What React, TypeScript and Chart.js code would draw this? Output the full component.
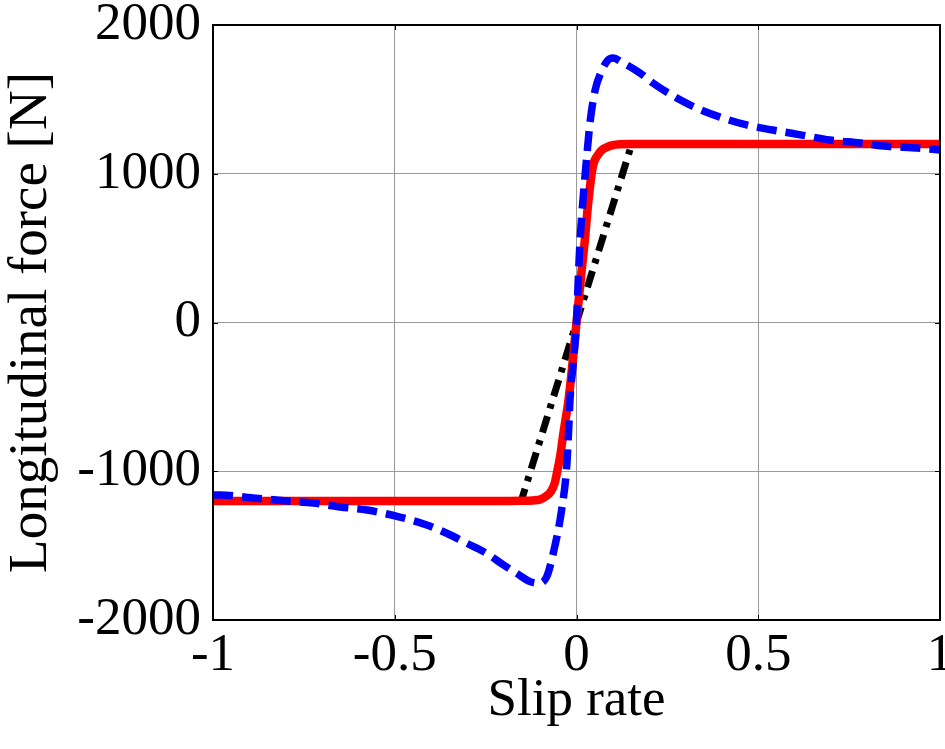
import React, { useEffect, useRef } from "react";
import { Chart, registerables } from "chart.js";

Chart.register(...registerables);

// Slip rate (x) and longitudinal force [N] (y) for each series
const blueSlip = [
  -1, -0.98, -0.89, -0.796, -0.724, -0.65, -0.576, -0.486, -0.412, -0.357, -0.302, -0.247,
  -0.201, -0.165, -0.128, -0.105, -0.082, -0.064, -0.041, -0.027, -0.022, -0.018, -0.008, 0,
  0.005, 0.01, 0.018, 0.028, 0.037, 0.051, 0.069, 0.085, 0.1, 0.128, 0.175, 0.21, 0.276,
  0.33, 0.395, 0.468, 0.54, 0.62, 0.697, 0.78, 0.854, 0.937, 1,
];
const blueForce = [
  -1160, -1160, -1180, -1200, -1214, -1240, -1261, -1308, -1361, -1417, -1484, -1552,
  -1630, -1686, -1742, -1753, -1709, -1552, -1261, -969, -745, -521, -250, 0,
  300, 560, 830, 1110, 1340, 1560, 1690, 1760, 1778, 1745, 1677, 1610, 1509,
  1442, 1381, 1328, 1294, 1260, 1227, 1207, 1185, 1173, 1160,
];

const redSlip = [
  -1, -0.5, -0.2, -0.15, -0.12, -0.1, -0.082, -0.07, -0.06, -0.054, -0.045, -0.037, -0.03,
  -0.023, -0.015, -0.008, 0, 0.008, 0.015, 0.023, 0.032, 0.045, 0.06, 0.07, 0.085, 0.1, 0.12,
  0.15, 0.2, 0.5, 1,
];
const redForce = [
  -1200, -1200, -1200, -1199, -1196, -1190, -1165, -1135, -1080, -1012, -900, -760, -650,
  -540, -370, -200, 0, 200, 370, 555, 800, 1050, 1130, 1160, 1180, 1192, 1198,
  1200, 1200, 1200, 1200,
];

const blackSlip = [-1, -0.152, 0.152, 1];
const blackForce = [-1200, -1200, 1200, 1200];

const xTicks = [-1, -0.5, 0, 0.5, 1];
const yTicks = [-2000, -1000, 0, 1000, 2000];

const xTitle = "Slip rate";
const yTitle = "Longitudinal force [N]";

const FONT = "'Liberation Serif', 'Times New Roman', serif";

const toPoints = (xs: number[], ys: number[]) => xs.map((x, i) => ({ x, y: ys[i] }));

const framePlugin = {
  id: "frame",
  afterDraw(chart: any) {
    const { ctx, chartArea } = chart;
    const { left, right, top, bottom } = chartArea;
    const xs = chart.scales.x;
    const ys = chart.scales.y;
    ctx.save();
    ctx.strokeStyle = "#000";
    ctx.lineWidth = 1;
    const tl = 5;
    ctx.beginPath();
    xTicks.forEach((v) => {
      const px = Math.round(xs.getPixelForValue(v)) + 0.5;
      ctx.moveTo(px, bottom);
      ctx.lineTo(px, bottom - tl);
      ctx.moveTo(px, top);
      ctx.lineTo(px, top + tl);
    });
    yTicks.forEach((v) => {
      const py = Math.round(ys.getPixelForValue(v)) + 0.5;
      ctx.moveTo(left, py);
      ctx.lineTo(left + tl, py);
      ctx.moveTo(right, py);
      ctx.lineTo(right - tl, py);
    });
    ctx.stroke();
    ctx.lineWidth = 2;
    ctx.strokeRect(left, top, right - left, bottom - top);
    ctx.restore();
  },
};

export default function App() {
  const ref = useRef<HTMLCanvasElement>(null);

  useEffect(() => {
    if (!ref.current) return;
    const chart = new Chart(ref.current, {
      type: "line",
      data: {
        datasets: [
          {
            label: "blue",
            data: toPoints(blueSlip, blueForce),
            borderColor: "#0000ff",
            borderWidth: 7.5,
            borderDash: [20, 9],
            pointRadius: 0,
            fill: false,
            cubicInterpolationMode: "monotone",
          },
          {
            label: "red",
            data: toPoints(redSlip, redForce),
            borderColor: "#ff0000",
            borderWidth: 8.5,
            pointRadius: 0,
            fill: false,
            cubicInterpolationMode: "monotone",
          },
          {
            label: "black",
            data: toPoints(blackSlip, blackForce),
            borderColor: "#000000",
            borderWidth: 7,
            borderDash: [17, 8, 5, 8],
            pointRadius: 0,
            fill: false,
            tension: 0,
          },
        ],
      },
      options: {
        responsive: false,
        animation: false,
        layout: { padding: { top: 25, right: 25, left: 0, bottom: 0 } },
        plugins: {
          legend: { display: false },
          tooltip: { enabled: false },
        },
        scales: {
          x: {
            type: "linear",
            min: -1,
            max: 1,
            afterBuildTicks: (scale: any) => {
              scale.ticks = xTicks.map((v) => ({ value: v }));
            },
            afterFit: (scale: any) => {
              scale.height = 129;
              scale.paddingLeft = 0;
              scale.paddingRight = 0;
            },
            ticks: {
              autoSkip: false,
              maxRotation: 0,
              padding: 4,
              color: "#000",
              font: { family: FONT, size: 53 },
              callback: (v: any) => String(v),
            },
            grid: { color: "#9a9a9a", lineWidth: 1, drawTicks: false },
            border: { display: false },
            title: {
              display: true,
              text: xTitle,
              color: "#000",
              font: { family: FONT, size: 53, lineHeight: 1.2 },
              padding: { top: 0, bottom: 16 },
            },
          },
          y: {
            type: "linear",
            min: -2000,
            max: 2000,
            afterBuildTicks: (scale: any) => {
              scale.ticks = yTicks.map((v) => ({ value: v }));
            },
            afterFit: (scale: any) => {
              scale.width = 213;
              scale.paddingTop = 0;
              scale.paddingBottom = 0;
            },
            ticks: {
              autoSkip: false,
              padding: 12,
              color: "#000",
              font: { family: FONT, size: 53 },
              callback: (v: any) => String(v),
            },
            grid: { color: "#9a9a9a", lineWidth: 1, drawTicks: false },
            border: { display: false },
            title: {
              display: true,
              text: yTitle,
              color: "#000",
              font: { family: FONT, size: 55, lineHeight: 1.15 },
              padding: { top: 0, bottom: 0 },
            },
          },
        },
      },
      plugins: [framePlugin],
    } as any);
    return () => chart.destroy();
  }, []);

  return (
    <div
      style={{
        position: "absolute",
        left: 0,
        top: 0,
        width: 945,
        height: 749,
        overflow: "hidden",
        background: "#fff",
      }}
    >
      <canvas ref={ref} width={965} height={749} style={{ display: "block" }} />
    </div>
  );
}
